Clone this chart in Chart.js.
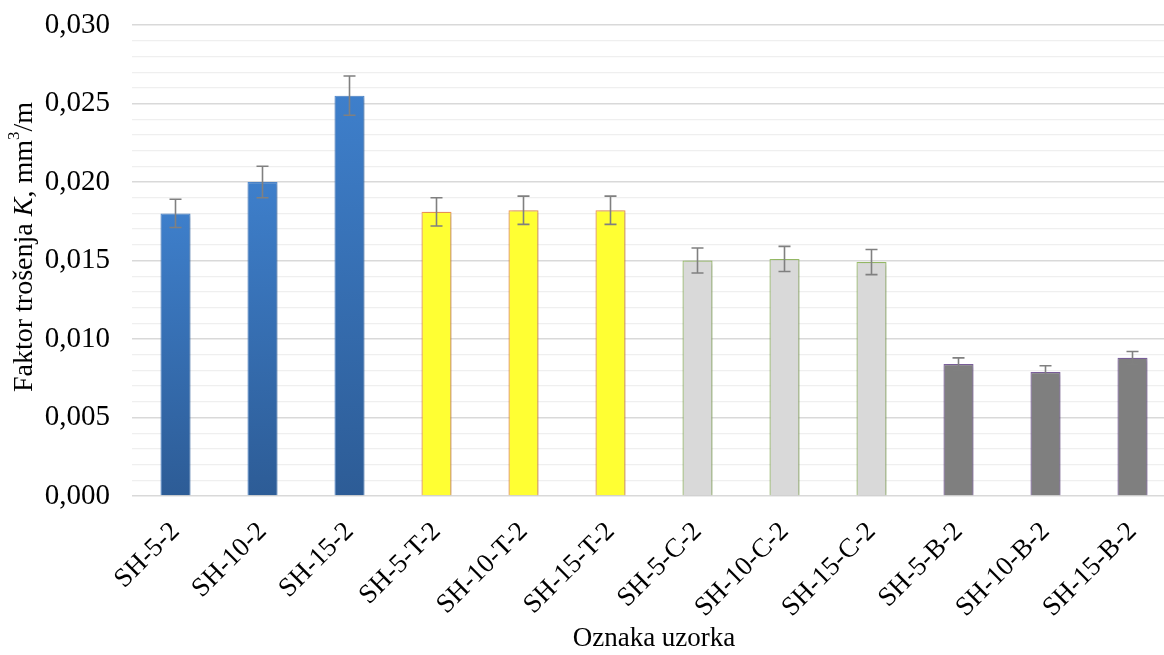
<!DOCTYPE html>
<html>
<head>
<meta charset="utf-8">
<script src="https://cdn.jsdelivr.net/npm/chart.js@4.4.0/dist/chart.umd.min.js"></script>
<style>
  html, body { margin: 0; padding: 0; background: #fff; overflow: hidden; }
  #wrap { width: 1180px; height: 655px; }
</style>
</head>
<body>
<div id="wrap"><canvas id="wear_chart"></canvas></div>
<script>
// sample labels and measured wear factor K (mm3/m), with error (+/-)
var samples = ['SH-5-2', 'SH-10-2', 'SH-15-2', 'SH-5-T-2', 'SH-10-T-2', 'SH-15-T-2',
               'SH-5-C-2', 'SH-10-C-2', 'SH-15-C-2', 'SH-5-B-2', 'SH-10-B-2', 'SH-15-B-2'];
var wearK = [0.0180, 0.0200, 0.0255, 0.0181, 0.0182, 0.0182,
             0.0150, 0.0151, 0.0149, 0.0084, 0.0079, 0.0088];
var wearErr = [0.0009, 0.0010, 0.00125, 0.0009, 0.0009, 0.0009,
               0.0008, 0.0008, 0.0008, 0.0004, 0.0004, 0.0004];
var group = ['plain', 'plain', 'plain', 'T', 'T', 'T', 'C', 'C', 'C', 'B', 'B', 'B'];

var serif = '"Liberation Serif", "Times New Roman", serif';

var fills = { T: '#ffff33', C: '#d9d9d9', B: '#7f7f7f' };
var edges = { plain: '#4f8ad2', T: '#f59a5a', C: '#9dc36b', B: '#8064a2' };

function barFill(ctx) {
    var chart = ctx.chart;
    var g = group[ctx.dataIndex];
    if (g !== 'plain') return fills[g];
    if (!chart.chartArea) return '#3a78c2';
    var y = chart.scales.y;
    var top = y.getPixelForValue(wearK[ctx.dataIndex]);
    var bot = y.getPixelForValue(0);
    var grad = chart.ctx.createLinearGradient(0, top, 0, bot);
    grad.addColorStop(0, '#3e7fcb');
    grad.addColorStop(1, '#2d5c96');
    return grad;
}

// soft shadow under the bars, like the spreadsheet original
var barShadow = {
    id: 'barShadow',
    beforeDatasetDraw: function (chart) {
        var c = chart.ctx;
        c.save();
        c.shadowColor = 'rgba(0,0,0,0.28)';
        c.shadowBlur = 4;
        c.shadowOffsetX = 1;
        c.shadowOffsetY = 1;
    },
    afterDatasetDraw: function (chart) {
        chart.ctx.restore();
    }
};

var errorBars = {
    id: 'errorBars',
    afterDatasetsDraw: function (chart) {
        var c = chart.ctx;
        var x = chart.scales.x, y = chart.scales.y;
        c.save();
        c.strokeStyle = '#808080';
        c.lineWidth = 1.6;
        for (var i = 0; i < wearK.length; i++) {
            var cx = x.getPixelForValue(i);
            var hi = y.getPixelForValue(wearK[i] + wearErr[i]);
            var lo = y.getPixelForValue(wearK[i] - wearErr[i]);
            c.beginPath();
            c.moveTo(cx, hi); c.lineTo(cx, lo);
            c.moveTo(cx - 6, hi); c.lineTo(cx + 6, hi);
            c.moveTo(cx - 6, lo); c.lineTo(cx + 6, lo);
            c.stroke();
        }
        c.restore();
    }
};

// y title with italic K and superscript 3
var yTitle = {
    id: 'yTitle',
    afterDraw: function (chart) {
        var c = chart.ctx;
        var size = 28;
        var parts = [
            { t: 'Faktor trošenja ', f: size + 'px ' + serif, dy: 0 },
            { t: 'K', f: 'italic ' + size + 'px ' + serif, dy: 0 },
            { t: ', mm', f: size + 'px ' + serif, dy: 0 },
            { t: '3', f: Math.round(size * 0.62) + 'px ' + serif, dy: -size * 0.38 },
            { t: '/m', f: size + 'px ' + serif, dy: 0 }
        ];
        var total = 0;
        parts.forEach(function (p) { c.font = p.f; p.w = c.measureText(p.t).width; total += p.w; });
        c.save();
        c.translate(25, 247);
        c.rotate(-Math.PI / 2);
        c.fillStyle = '#000';
        c.textBaseline = 'middle';
        var x = -total / 2;
        parts.forEach(function (p) {
            c.font = p.f;
            c.fillText(p.t, x, p.dy);
            x += p.w;
        });
        c.restore();
    }
};

new Chart(document.getElementById('wear_chart').getContext('2d'), {
    type: 'bar',
    data: {
        labels: samples,
        datasets: [{
            data: wearK,
            backgroundColor: barFill,
            borderColor: group.map(function (g) { return edges[g]; }),
            borderWidth: 1.2,
            barPercentage: 0.345,
            categoryPercentage: 1.0
        }]
    },
    options: {
        responsive: true,
        maintainAspectRatio: false,
        animation: false,
        layout: { padding: { top: 25, right: 4, bottom: 0, left: 0 } },
        plugins: { legend: { display: false }, tooltip: { enabled: false } },
        scales: {
            x: {
                grid: { display: false },
                border: { display: false },
                ticks: {
                    color: '#000',
                    font: { family: serif, size: 27 },
                    minRotation: 45, maxRotation: 45,
                    padding: 12,
                    autoSkip: false
                },
                title: {
                    display: true,
                    text: 'Oznaka uzorka',
                    color: '#000',
                    font: { family: serif, size: 27 },
                    padding: { top: 0, bottom: 0 }
                },
                afterFit: function (s) { s.height = 159; }
            },
            y: {
                min: 0, max: 0.03,
                border: { display: false },
                grid: {
                    drawTicks: false,
                    color: function (ctx) {
                        var v = Math.round(ctx.tick.value * 1000);
                        return v % 5 === 0 ? '#d9d9d9' : '#efefef';
                    },
                    lineWidth: function (ctx) {
                        var v = Math.round(ctx.tick.value * 1000);
                        return v % 5 === 0 ? 1.6 : 1.2;
                    }
                },
                ticks: {
                    stepSize: 0.001,
                    autoSkip: false,
                    color: '#000',
                    padding: 22,
                    font: { family: serif, size: 29 },
                    callback: function (v) {
                        var m = Math.round(v * 1000);
                        return m % 5 === 0 ? (m / 1000).toFixed(3).replace('.', ',') : '';
                    }
                },
                afterFit: function (s) {
                    s.width = 132;
                    s.paddingTop = 0;
                    s.paddingBottom = 0;
                }
            }
        }
    },
    plugins: [barShadow, errorBars, yTitle]
});
</script>
</body>
</html>
